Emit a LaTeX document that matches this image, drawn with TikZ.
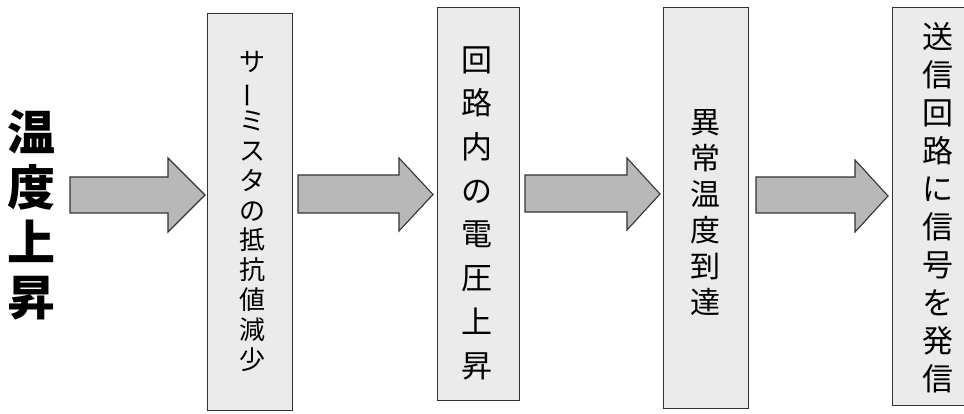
\documentclass[tikz,border=0pt]{standalone}
\usepackage{fontspec}
\newfontfamily\jp{Noto Sans CJK JP}
\newcommand\vfnt[2]{\jp\fontsize{#1}{#2}\selectfont\lineskiplimit=-100pt\relax}
\begin{document}
\begin{tikzpicture}[x=1pt,y=-1pt,
  box/.style={draw=black!80, line width=1.1pt, fill=black!8, anchor=north west, inner sep=0pt},
  barrow/.style={draw=black!80, line width=1.1pt, fill=black!28, line join=miter},
  vt/.style={align=center, inner sep=0pt, text=black}]
\useasboundingbox (0,0) rectangle (964,414);
\clip (0,0) rectangle (964,414);
\fill[white] (0,0) rectangle (964,414);
% boxes
\node[box, minimum width=85pt, minimum height=397pt] (b1) at (207,13) {};
\node[box, minimum width=82pt, minimum height=393pt] (b2) at (437,7) {};
\node[box, minimum width=85pt, minimum height=401pt] (b3) at (663,7) {};
\node[box, minimum width=86pt, minimum height=398pt] (b4) at (892,7) {};
% block arrows
\draw[barrow] (70,177) -- (168,177) -- (168,158) -- (205,195) -- (168,232) -- (168,213) -- (70,213) -- cycle;
\draw[barrow] (298,175) -- (399,175) -- (399,158) -- (433,194.5) -- (399,231) -- (399,213) -- (298,213) -- cycle;
\draw[barrow] (525,175) -- (627,175) -- (627,158) -- (660,194) -- (627,230) -- (627,212) -- (525,212) -- cycle;
\draw[barrow] (756,177) -- (855,177) -- (855,160) -- (888,196) -- (855,232) -- (855,213) -- (756,213) -- cycle;
% texts
\node[vt, font={\vfnt{48}{55}\bfseries}] (t0) at (32,215) {温\\度\\上\\昇};
\node[vt, font={\vfnt{26}{29.8}}] (t1) at (252,211)
  {サ\\\rotatebox[origin=c]{90}{ー}\\ミ\\ス\\タ\\の\\抵\\抗\\値\\減\\少};
\node[vt, font={\vfnt{31}{43.7}}] (t2) at (477,213) {回\\路\\内\\の\\電\\圧\\上\\昇};
\node[vt, font={\vfnt{30}{36}}] (t3) at (705,213) {異\\常\\温\\度\\到\\達};
\node[vt, font={\vfnt{31}{38}}] (t4) at (938,208) {送\\信\\回\\路\\に\\信\\号\\を\\発\\信};
\end{tikzpicture}
\end{document}
